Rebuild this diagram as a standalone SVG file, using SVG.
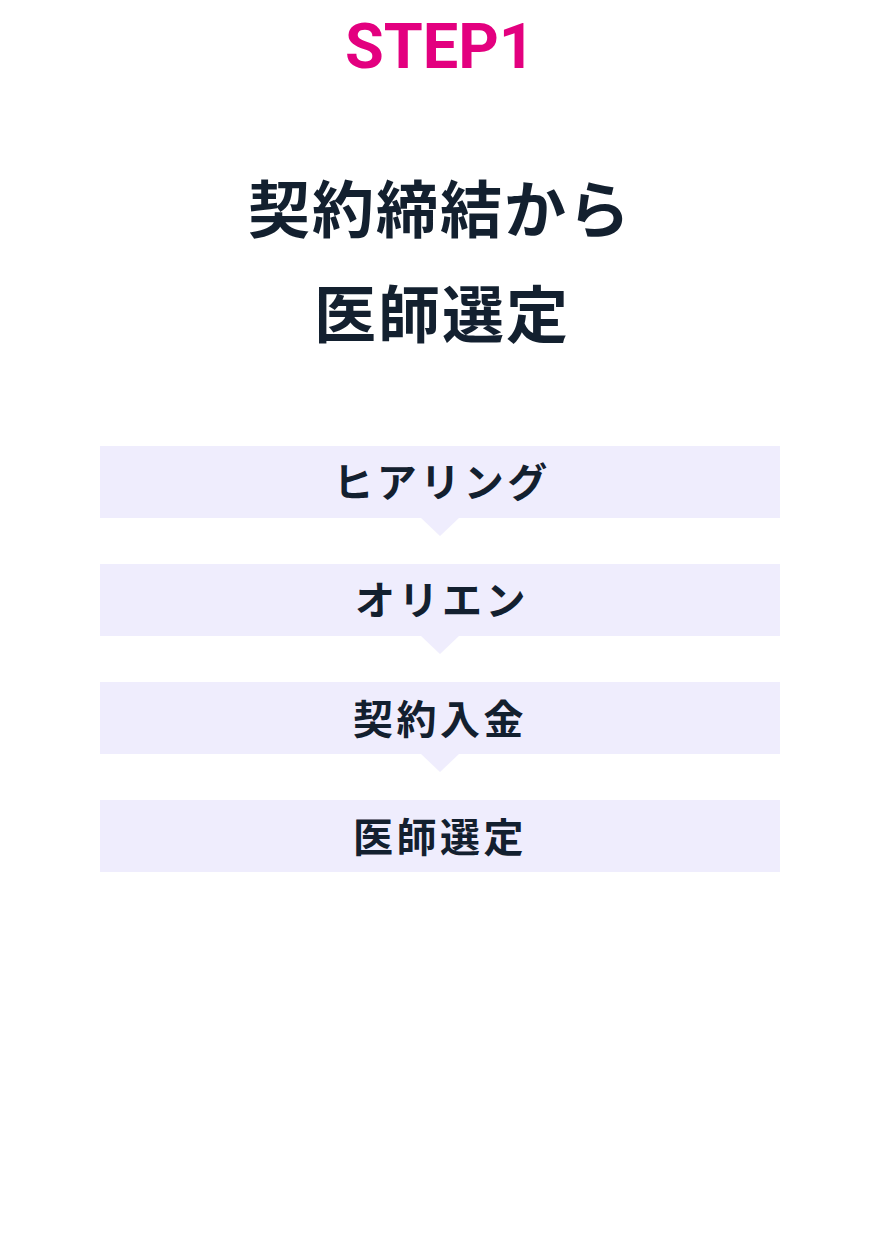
<svg xmlns="http://www.w3.org/2000/svg" width="880" height="1244" viewBox="0 0 880 1244">
<style>
.step{font-family:Roboto,"Liberation Sans",sans-serif;font-weight:700;font-size:63px;fill:#e3007f}
.head{font-family:"Noto Sans CJK JP","Noto Sans",sans-serif;font-weight:700;font-size:62px;fill:#13202f;letter-spacing:2px}
.box{fill:#efedfd}
.lbl{font-family:"Noto Sans CJK JP","Noto Sans",sans-serif;font-weight:700;font-size:40px;fill:#13202f;letter-spacing:3.5px}
</style>
<rect width="880" height="1244" fill="#ffffff"/>
<g id="title">
<text class="step" x="440" y="68" text-anchor="middle">STEP1</text>
<text class="head" x="440" y="233" text-anchor="middle">契約締結から</text>
<text class="head" x="442" y="338" text-anchor="middle">医師選定</text>
</g>
<g id="connectors">
<polygon class="box" points="420,517 460,517 440,536"/>
<polygon class="box" points="420,635 460,635 440,654"/>
<polygon class="box" points="420,753 460,753 440,772"/>
</g>
<g id="n1"><rect class="box" x="100" y="446" width="680" height="72"/><text class="lbl" x="442" y="497" text-anchor="middle">ヒアリング</text></g>
<g id="n2"><rect class="box" x="100" y="564" width="680" height="72"/><text class="lbl" x="442" y="615" text-anchor="middle">オリエン</text></g>
<g id="n3"><rect class="box" x="100" y="682" width="680" height="72"/><text class="lbl" x="440" y="734" text-anchor="middle">契約入金</text></g>
<g id="n4"><rect class="box" x="100" y="800" width="680" height="72"/><text class="lbl" x="440" y="852" text-anchor="middle">医師選定</text></g>
</svg>
